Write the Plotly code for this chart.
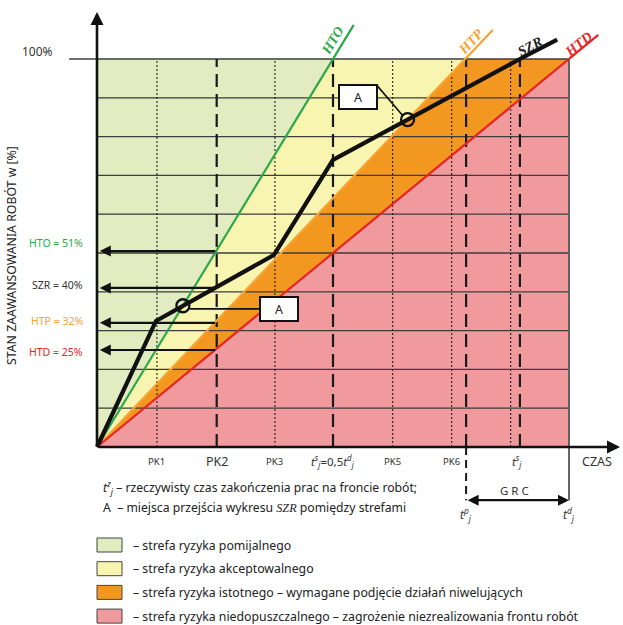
import plotly.graph_objects as go

# ---------------- data ----------------
zone_names = ["HTO", "HTP", "HTD"]
zone_t100 = [0.5, 0.78, 1.0]          # time (t/t_d) at which each boundary reaches 100 %
zone_ext = [108.8, 107.5, 106.2]       # % where the drawn boundary line ends
zone_colors = ["#2BA84A", "#F7A233", "#E52528"]

szr_t = [0.0, 0.125, 0.375, 0.5, 0.896, 0.975]
szr_v = [0.0, 32.5, 49.5, 74.0, 100.0, 105.0]

trans_t = [0.182, 0.658]               # places "A" (SZR crossing zones)
trans_v = [36.4, 84.4]

grid_levels = [10, 20, 30, 40, 50, 60, 70, 80, 90, 100]
dotted_t = [0.127, 0.377, 0.6265, 0.7515, 0.8765]
dashed_t = [0.2536, 0.5, 0.782, 0.896]

level_labels = ["HTO = 51%", "SZR = 40%", "HTP = 32%", "HTD = 25%"]
level_vals = [50.5, 41.0, 32.0, 25.0]
level_colors = ["#2BA84A", "#333333", "#F7A233", "#E52528"]

tick_t = [0.127, 0.2536, 0.377, 0.5, 0.6265, 0.7515, 0.89]
tick_text = ["PK1", "PK2", "PK3",
             "<i>t</i><sup><i>s</i></sup><sub><i>j</i></sub>=0,5<i>t</i><sup><i>d</i></sup><sub><i>j</i></sub>",
             "PK5", "PK6", "<i>t</i><sup><i>s</i></sup><sub><i>j</i></sub>"]
tick_size = [9.5, 12.5, 9.5, 11.5, 9.5, 9.5, 11.5]

legend_text = ["– strefa ryzyka pomijalnego",
               "– strefa ryzyka akceptowalnego",
               "– strefa ryzyka istotnego – wymagane podjęcie działań niwelujących",
               "– strefa ryzyka niedopuszczalnego – zagrożenie niezrealizowania frontu robót"]
fill_colors = ["#E3EBC0", "#F8F5B0", "#F2971F", "#F19A9E"]

W, H = 623, 625
X0, Y0, PXT, PXP = 97, 447, 472, 3.88   # pixel mapping of the drawing

fig = go.Figure()

# ---------------- zones ----------------
t_hto, t_htp, t_htd = zone_t100
polys = [
    ([0, t_hto, 0, 0], [0, 100, 100, 0]),
    ([0, t_htp, t_hto, 0], [0, 100, 100, 0]),
    ([0, t_htd, t_htp, 0], [0, 100, 100, 0]),
    ([0, 1.0, 1.0, 0], [0, 0, 100, 0]),
]
for (px, py), c in zip(polys, fill_colors):
    fig.add_trace(go.Scatter(x=px, y=py, fill="toself", fillcolor=c, mode="none",
                             hoverinfo="skip", showlegend=False))

# grid lines
gx, gy = [], []
for lv in grid_levels:
    x0 = -0.059 if lv == 100 else 0
    gx += [x0, 1.0, None]
    gy += [lv, lv, None]
fig.add_trace(go.Scatter(x=gx, y=gy, mode="lines", line=dict(color="#3d3d3d", width=1.3),
                         hoverinfo="skip", showlegend=False))
# right border
fig.add_trace(go.Scatter(x=[1.0, 1.0], y=[-13.7, 100], mode="lines",
                         line=dict(color="#555555", width=1.8), hoverinfo="skip", showlegend=False))

# vertical dotted/dashed lines
vx, vy = [], []
for t in dotted_t:
    vx += [t, t, None]
    vy += [0, 100, None]
fig.add_trace(go.Scatter(x=vx, y=vy, mode="lines",
                         line=dict(color="#111111", width=1, dash="2px,2px"),
                         hoverinfo="skip", showlegend=False))
dx, dy = [], []
for t in dashed_t:
    dx += [t, t, None]
    dy += [0, 100, None]
fig.add_trace(go.Scatter(x=dx, y=dy, mode="lines",
                         line=dict(color="#1a1a1a", width=2.2, dash="13px,7px"),
                         hoverinfo="skip", showlegend=False))
# t_p dashed extension below the axis
fig.add_trace(go.Scatter(x=[dashed_t[2], dashed_t[2]], y=[0, -13.7], mode="lines",
                         line=dict(color="#1a1a1a", width=2, dash="8px,5px"),
                         hoverinfo="skip", showlegend=False))

# zone boundary lines
for name, t100, ext, col in zip(zone_names, zone_t100, zone_ext, zone_colors):
    fig.add_trace(go.Scatter(x=[0, t100 * ext / 100], y=[0, ext], mode="lines",
                             line=dict(color=col, width=2.2), hoverinfo="skip", showlegend=False))

# SZR
fig.add_trace(go.Scatter(x=szr_t, y=szr_v, mode="lines", line=dict(color="#111111", width=4.2),
                         hoverinfo="skip", showlegend=False))

# connectors to A boxes
fig.add_trace(go.Scatter(x=[0.593, 0.648, None, trans_t[0] + 0.015, 0.343],
                         y=[93.2, 85.4, None, 35.6, 35.6], mode="lines",
                         line=dict(color="#111111", width=1.6), hoverinfo="skip", showlegend=False))
# transition circles
fig.add_trace(go.Scatter(x=trans_t, y=trans_v, mode="markers",
                         marker=dict(symbol="circle-open", size=13, color="#111111",
                                     line=dict(width=2.3, color="#111111")),
                         hoverinfo="skip", showlegend=False))

ann = []
def P(x, y):
    return x / W, 1 - y / H

def text(px, py, s, size=11, color="#222222", xanchor="center", angle=0, family="Noto Sans"):
    x, y = P(px, py)
    ann.append(dict(xref="paper", yref="paper", x=x, y=y, text=s, showarrow=False,
                    xanchor=xanchor, yanchor="middle", textangle=angle,
                    font=dict(size=size, color=color, family=family)))

# A boxes
for (cx, cy) in [(357.5, 84.5), (278.5, 309)]:
    x, y = P(cx, cy)
    ann.append(dict(xref="paper", yref="paper", x=x, y=y, text="A", showarrow=False,
                    width=34, height=20, bgcolor="white", bordercolor="#111111", borderwidth=2,
                    font=dict(size=12.5, color="#222222", family="Noto Sans")))

# axes arrows
ann.append(dict(xref="x", yref="y", axref="x", ayref="y", x=0, y=(Y0 - 12) / PXP, ax=0, ay=0,
                text="", showarrow=True, arrowhead=2, arrowsize=1, arrowwidth=2.6,
                arrowcolor="#111111", standoff=0, startstandoff=0))
ann.append(dict(xref="x", yref="y", axref="x", ayref="y", x=(620 - X0) / PXT, y=0, ax=0, ay=0,
                text="", showarrow=True, arrowhead=2, arrowsize=1, arrowwidth=2.6,
                arrowcolor="#111111", standoff=0, startstandoff=0))
# level arrows
for lv in level_vals:
    ann.append(dict(xref="x", yref="y", axref="x", ayref="y", x=0.006, y=lv, ax=dashed_t[0], ay=lv,
                    text="", showarrow=True, arrowhead=2, arrowsize=1, arrowwidth=2.2,
                    arrowcolor="#111111", standoff=0))
# GRC double arrow
ann.append(dict(xref="x", yref="y", axref="x", ayref="y", x=1.0, y=-13.7, ax=dashed_t[2], ay=-13.7,
                text="", showarrow=True, arrowhead=2, arrowside="end+start", arrowsize=1,
                arrowwidth=2.2, arrowcolor="#111111", standoff=0, startstandoff=0))

# texts
text(37, 51, "100%", 12, "#333333")
text(12, 256, "STAN ZAAWANSOWANIA ROBÓT w [%]", 12.3, "#222222", angle=-90)
for lab, lv, col, py in zip(level_labels, level_vals, level_colors, [243, 285, 321, 352]):
    text(85, py, lab, 10.5, col, xanchor="right")

for name, col, (cx, cy, ang) in zip(zone_names, zone_colors,
                                    [(333, 41, -58.7), (470, 42, -46.5), (578, 44, -39.4)]):
    text(cx, cy, "<b><i>" + name + "</i></b>", 14, col, angle=ang, family="Liberation Serif")
text(530, 46, "<b><i>SZR</i></b>", 14, "#222222", angle=-28.4, family="Liberation Serif")

for t, s, sz in zip(tick_t, tick_text, tick_size):
    text(X0 + t * PXT, 461, s, sz, "#333333")
text(597, 461, "CZAS", 12.5, "#333333")
text(514, 490, "G R C", 11.5, "#333333")
text(X0 + dashed_t[2] * PXT, 514,
     "<i>t</i><sup><i>p</i></sup><sub><i>j</i></sub>", 12, "#333333")
text(X0 + 1.0 * PXT, 514, "<i>t</i><sup><i>d</i></sup><sub><i>j</i></sub>", 12, "#333333")

text(101, 488, "<i>t</i><sup><i>z</i></sup><sub><i>j</i></sub> – rzeczywisty czas zakończenia prac na froncie robót;",
     12.2, "#222222", xanchor="left")
text(101, 507, "A  – miejsca przejścia wykresu <span style='font-family:Liberation Serif'><i>SZR</i></span> pomiędzy strefami",
     12.2, "#222222", xanchor="left")

shapes = []
for i, (lab, c) in enumerate(zip(legend_text, fill_colors)):
    cy = 545 + i * 23.7
    x0, y0 = P(97, cy - 7)
    x1, y1 = P(122, cy + 7)
    shapes.append(dict(type="rect", xref="paper", yref="paper", x0=x0, x1=x1, y0=y1, y1=y0,
                       fillcolor=c, line=dict(color="#444444", width=1)))
    text(131, cy, lab, 12.3, "#222222", xanchor="left")

fig.update_layout(
    width=W, height=H, autosize=False,
    margin=dict(l=0, r=0, t=0, b=0),
    paper_bgcolor="white", plot_bgcolor="white",
    xaxis=dict(range=[-X0 / PXT, (W - X0) / PXT], visible=False, fixedrange=True),
    yaxis=dict(range=[(Y0 - H) / PXP, Y0 / PXP], visible=False, fixedrange=True),
    annotations=ann, shapes=shapes, showlegend=False,
)

fig.write_html("out.html", config={"displayModeBar": False},
               post_script="document.body.style.margin='0px';document.body.style.overflow='hidden';")
